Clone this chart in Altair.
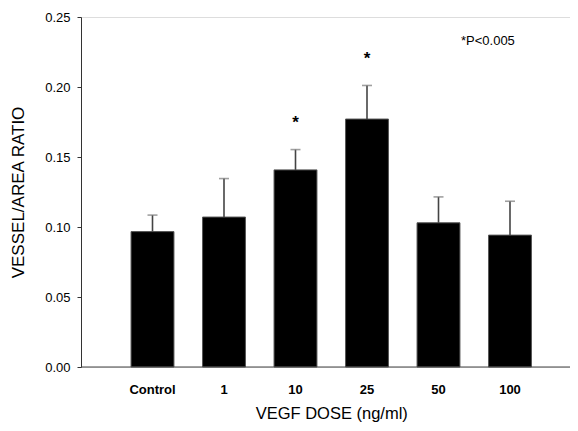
import altair as alt
import pandas as pd

categories = ["Control", "1", "10", "25", "50", "100"]
means = [0.0967, 0.1071, 0.1408, 0.1771, 0.1030, 0.0942]
upper = [0.1085, 0.1346, 0.1553, 0.2011, 0.1215, 0.1184]
star_cats = ["10", "25"]
star_y = [0.171, 0.2166]

df = pd.DataFrame({"dose": categories, "mean": means, "upper": upper})
stars = pd.DataFrame({"dose": star_cats, "y": star_y, "t": ["*", "*"]})

W, H = 489, 350
FONT = "Liberation Sans"

xscale = alt.Scale(domain=categories, range=[35.75, 464.75], paddingInner=0.4, paddingOuter=0.2)
yscale = alt.Scale(domain=[0, 0.25], nice=False, zero=True)

x_enc = alt.X("dose:N", scale=xscale, sort=categories,
              axis=alt.Axis(title="VEGF DOSE (ng/ml)", domain=False, ticks=False,
                            labelAngle=0, labelFont=FONT, labelFontSize=13,
                            labelFontWeight="bold", labelColor="black", labelPadding=16,
                            titleFont=FONT, titleFontSize=16.5, titleFontWeight="normal",
                            titleColor="black", titlePadding=9))
y_enc = alt.Y("mean:Q", scale=yscale,
              axis=alt.Axis(title="VESSEL/AREA RATIO", values=[0, 0.05, 0.10, 0.15, 0.20, 0.25],
                            format=".2f", grid=False, domainColor="#333", tickColor="#333",
                            tickSize=4, labelPadding=7, labelFont=FONT, labelFontSize=13,
                            labelColor="black", titleFont=FONT, titleFontSize=17,
                            titleFontWeight="normal", titleColor="black", titlePadding=17))

base = alt.Chart(df)

bars = base.mark_bar(color="black", stroke="#555", strokeWidth=1).encode(x=x_enc, y=y_enc)

err = base.mark_rule(color="#444", strokeWidth=1.6).encode(
    x=alt.X("dose:N", scale=xscale, sort=categories),
    y=alt.Y("mean:Q", scale=yscale),
    y2="upper:Q")

caps = base.mark_tick(color="#777", thickness=1.6, size=10, orient="horizontal").encode(
    x=alt.X("dose:N", scale=xscale, sort=categories),
    y=alt.Y("upper:Q", scale=yscale))

baseline = alt.Chart(pd.DataFrame({"y": [0]})).mark_rule(color="#444", strokeWidth=1.2).encode(
    y=alt.Y("y:Q", scale=yscale), x=alt.value(0), x2=alt.value(W))

star_marks = alt.Chart(stars).mark_text(font=FONT, fontSize=17, fontWeight="bold",
                                        baseline="alphabetic", color="black").encode(
    x=alt.X("dose:N", scale=xscale, sort=categories),
    y=alt.Y("y:Q", scale=yscale),
    text="t:N")

note = alt.Chart(pd.DataFrame({"t": ["*P<0.005"]})).mark_text(
    font=FONT, fontSize=13, align="left", baseline="alphabetic", color="black").encode(
    x=alt.value(380), y=alt.value(28), text="t:N")

chart = alt.layer(bars, err, caps, baseline, star_marks, note).properties(
    width=W, height=H,
    autosize=alt.AutoSizeParams(type="none"),
    padding={"left": 73, "top": 9, "right": 0, "bottom": 55},
).configure_view(stroke=None).configure(background="white")

chart.save("out.html", embed_options={"renderer": "svg", "actions": False})
